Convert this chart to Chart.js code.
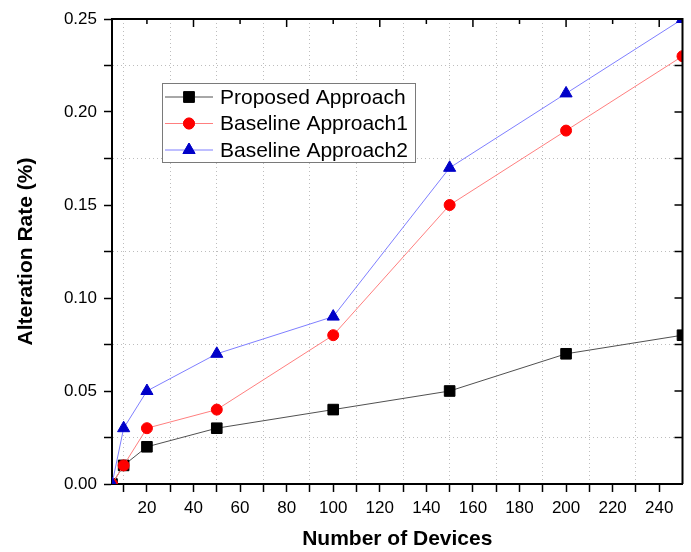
<!DOCTYPE html>
<html lang="en">
<head>
    <meta charset="UTF-8">
    <title>Alteration Rate vs Number of Devices</title>
    <style>
        body { margin: 0; background: #fff; }
        .chart-container { width: 691px; height: 552px; position: relative; }
    </style>
</head>
<body>
    <div class="chart-container">
        <canvas id="rateChart"></canvas>
    </div>

    <script src="https://cdn.jsdelivr.net/npm/chart.js"></script>
    <script>
        // values
        const devices = [5, 10, 20, 50, 100, 150, 200, 250];
        const proposed = [0, 0.01, 0.02, 0.03, 0.04, 0.05, 0.07, 0.08];
        const baseline1 = [0, 0.01, 0.03, 0.04, 0.08, 0.15, 0.19, 0.23];
        const baseline2 = [0, 0.03, 0.05, 0.07, 0.09, 0.17, 0.21, 0.25];
        const seriesNames = ['Proposed Approach', 'Baseline Approach1', 'Baseline Approach2'];

        const xTickValues = [10, 20, 30, 40, 50, 60, 70, 80, 90, 100, 110, 120, 130, 140, 150, 160, 170, 180, 190, 200, 210, 220, 230, 240];
        const yTickValues = [0, 0.025, 0.05, 0.075, 0.1, 0.125, 0.15, 0.175, 0.2, 0.225, 0.25];

        const fontFamily = "Arial, 'Liberation Sans', sans-serif";
        const gridGray = '#bdbdbd';

        function toPoints(values) {
            return devices.map((d, i) => ({ x: d, y: values[i] }));
        }

        // legend box drawn inside the plot, like the original figure
        const insideLegend = {
            id: 'insideLegend',
            afterDraw(chart) {
                const ctx = chart.ctx;
                const box = { x: 162, y: 83, w: 253, h: 79 };
                ctx.save();
                ctx.fillStyle = '#fff';
                ctx.fillRect(box.x, box.y, box.w, box.h);
                ctx.strokeStyle = '#7a7a7a';
                ctx.lineWidth = 1;
                ctx.strokeRect(box.x + 0.5, box.y + 0.5, box.w, box.h);
                chart.data.datasets.forEach((ds, i) => {
                    const y = 97 + i * 26.5;
                    ctx.strokeStyle = ds.borderColor;
                    ctx.lineWidth = 1;
                    ctx.beginPath();
                    ctx.moveTo(165, y);
                    ctx.lineTo(213, y);
                    ctx.stroke();
                    Chart.helpers.drawPoint(ctx, {
                        pointStyle: ds.pointStyle,
                        radius: ds.pointRadius,
                        borderWidth: 1,
                        rotation: 0
                    }, 189, y);
                    ctx.fillStyle = ds.pointBackgroundColor;
                    ctx.strokeStyle = ds.pointBorderColor;
                    ctx.fill();
                    ctx.stroke();
                    ctx.fillStyle = '#000';
                    ctx.font = '21px ' + fontFamily;
                    ctx.textBaseline = 'middle';
                    ctx.fillText(ds.label, 220, y + 1);
                });
                ctx.restore();
            }
        };

        // top and right frame lines with inward ticks
        const frame = {
            id: 'frame',
            afterDatasetsDraw(chart) {
                const ctx = chart.ctx;
                const area = chart.chartArea;
                const xs = chart.scales.x;
                const ys = chart.scales.y;
                ctx.save();
                ctx.strokeStyle = '#000';
                ctx.lineWidth = 2;
                ctx.beginPath();
                ctx.moveTo(area.left, area.top);
                ctx.lineTo(area.right, area.top);
                ctx.lineTo(area.right, area.bottom);
                ctx.stroke();
                ctx.lineWidth = 1.5;
                ctx.beginPath();
                ys.ticks.forEach(t => {
                    const py = ys.getPixelForValue(t.value);
                    ctx.moveTo(area.right, py);
                    ctx.lineTo(area.right - 8, py);
                });
                xs.ticks.forEach((t, i) => {
                    if (t.value % 20 !== 0) return;
                    const px = xs.getPixelForValue(t.value);
                    ctx.moveTo(px, area.top);
                    ctx.lineTo(px, area.top + (i % 4 === 1 ? 5 : 8));
                });
                ctx.stroke();
                ctx.restore();
            }
        };

        const rateChart = new Chart(document.getElementById('rateChart'), {
            type: 'line',
            data: {
                datasets: [{
                    label: seriesNames[0],
                    data: toPoints(proposed),
                    borderColor: '#505050',
                    borderWidth: 1,
                    pointStyle: 'rect',
                    pointRadius: 7.5,
                    pointBackgroundColor: '#000',
                    pointBorderColor: '#000',
                    order: 2,
                    clip: 0
                }, {
                    label: seriesNames[1],
                    data: toPoints(baseline1),
                    borderColor: '#ff7f7f',
                    borderWidth: 1,
                    pointStyle: 'circle',
                    pointRadius: 5.5,
                    pointBackgroundColor: '#ff0000',
                    pointBorderColor: '#ff0000',
                    order: 1,
                    clip: 0
                }, {
                    label: seriesNames[2],
                    data: toPoints(baseline2),
                    borderColor: '#7f7fff',
                    borderWidth: 1,
                    pointStyle: 'triangle',
                    pointRadius: 7,
                    pointBackgroundColor: '#0000c8',
                    pointBorderColor: '#0000c8',
                    order: 0,
                    clip: 0
                }]
            },
            options: {
                responsive: true,
                maintainAspectRatio: false,
                animation: false,
                layout: { padding: { top: 19, right: 7, left: 0, bottom: 0 } },
                plugins: {
                    legend: { display: false },
                    tooltip: { enabled: false }
                },
                scales: {
                    x: {
                        type: 'linear',
                        min: 5,
                        max: 250,
                        afterBuildTicks: scale => { scale.ticks = xTickValues.map(v => ({ value: v })); },
                        afterFit: scale => { scale.height = 68; },
                        ticks: {
                            autoSkip: false,
                            maxRotation: 0,
                            padding: 6,
                            color: '#000',
                            font: { family: fontFamily, size: 17 },
                            callback: v => (v % 20 === 0 ? String(v) : '')
                        },
                        grid: {
                            color: c => (c.tick && c.tick.value % 20 === 10 ? gridGray : 'rgba(0,0,0,0)'),
                            tickColor: '#000',
                            tickLength: 8,
                            tickWidth: 1.5
                        },
                        border: { display: true, color: '#000', width: 2, dash: [1, 3] },
                        title: {
                            display: true,
                            text: 'Number of Devices',
                            color: '#000',
                            font: { family: fontFamily, size: 21, weight: 'bold' },
                            padding: { top: 0, bottom: 0 }
                        }
                    },
                    y: {
                        type: 'linear',
                        min: 0,
                        max: 0.25,
                        afterBuildTicks: scale => { scale.ticks = yTickValues.map(v => ({ value: v })); },
                        afterFit: scale => { scale.width = 112; },
                        ticks: {
                            autoSkip: false,
                            padding: 7,
                            color: '#000',
                            font: { family: fontFamily, size: 17 },
                            callback: (v, i) => (i % 2 === 0 ? v.toFixed(2) : '')
                        },
                        grid: {
                            color: c => (c.index % 2 === 1 ? gridGray : 'rgba(0,0,0,0)'),
                            tickColor: '#000',
                            tickLength: 8,
                            tickWidth: 1.5
                        },
                        border: { display: true, color: '#000', width: 2, dash: [1, 3] },
                        title: {
                            display: true,
                            text: 'Alteration Rate (%)',
                            color: '#000',
                            font: { family: fontFamily, size: 21, weight: 'bold' },
                            padding: { top: 14, bottom: 0 }
                        }
                    }
                }
            },
            plugins: [frame, insideLegend]
        });
    </script>
</body>
</html>
